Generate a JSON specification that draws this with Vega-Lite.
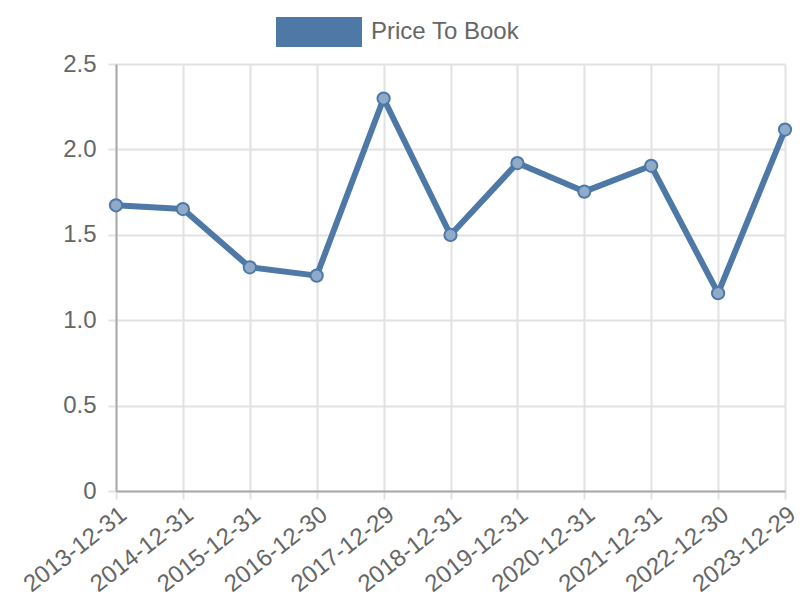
{
  "$schema": "https://vega.github.io/schema/vega-lite/v6.json",
  "width": 669,
  "height": 427,
  "autosize": {"type": "none"},
  "padding": {"left": 116, "top": 64, "right": 15, "bottom": 109},
  "background": "white",
  "config": {
    "font": "Liberation Sans",
    "view": {"stroke": null},
    "axis": {
      "labelFont": "Liberation Sans",
      "labelFontSize": 24,
      "labelColor": "#666666",
      "gridColor": "#e2e2e2",
      "gridWidth": 2,
      "domainColor": "#aaaaaa",
      "domainWidth": 2,
      "tickColor": "#e2e2e2",
      "tickWidth": 2,
      "tickSize": 8,
      "title": null
    }
  },
  "data": {
    "values": [
      {"date": "2013-12-31", "value": 1.673, "series": "Price To Book"},
      {"date": "2014-12-31", "value": 1.651, "series": "Price To Book"},
      {"date": "2015-12-31", "value": 1.31, "series": "Price To Book"},
      {"date": "2016-12-30", "value": 1.261, "series": "Price To Book"},
      {"date": "2017-12-29", "value": 2.298, "series": "Price To Book"},
      {"date": "2018-12-31", "value": 1.499, "series": "Price To Book"},
      {"date": "2019-12-31", "value": 1.92, "series": "Price To Book"},
      {"date": "2020-12-31", "value": 1.753, "series": "Price To Book"},
      {"date": "2021-12-31", "value": 1.904, "series": "Price To Book"},
      {"date": "2022-12-30", "value": 1.158, "series": "Price To Book"},
      {"date": "2023-12-29", "value": 2.116, "series": "Price To Book"}
    ]
  },
  "encoding": {
    "x": {
      "field": "date",
      "type": "ordinal",
      "sort": null,
      "scale": {"type": "point", "padding": 0},
      "axis": {"labelAngle": -38, "labelPadding": 3, "grid": true, "domain": true}
    },
    "y": {
      "field": "value",
      "type": "quantitative",
      "scale": {"domain": [0, 2.5], "nice": false, "zero": true},
      "axis": {
        "values": [0, 0.5, 1, 1.5, 2, 2.5],
        "labelExpr": "datum.value == 0 ? '0' : format(datum.value, '.1f')",
        "labelPadding": 12,
        "grid": true
      }
    },
    "color": {
      "field": "series",
      "type": "nominal",
      "scale": {"range": ["#4e79a7"]},
      "legend": {
        "title": null,
        "orient": "none",
        "legendX": 160,
        "legendY": -75,
        "padding": 0,
        "symbolType": "M-1,-0.349L1,-0.349L1,0.349L-1,0.349Z",
        "symbolSize": 7396,
        "symbolFillColor": "#4e79a7",
        "symbolStrokeWidth": 0,
        "symbolOpacity": 1,
        "labelFont": "Liberation Sans",
        "labelFontSize": 24,
        "labelColor": "#666666",
        "labelOffset": 9
      }
    }
  },
  "layer": [
    {
      "mark": {"type": "line", "strokeWidth": 6, "strokeJoin": "round", "strokeCap": "round"}
    },
    {
      "mark": {"type": "point", "filled": true, "size": 150, "fill": "#90abc9", "stroke": "#4e79a7", "strokeWidth": 2, "opacity": 1}
    }
  ]
}
